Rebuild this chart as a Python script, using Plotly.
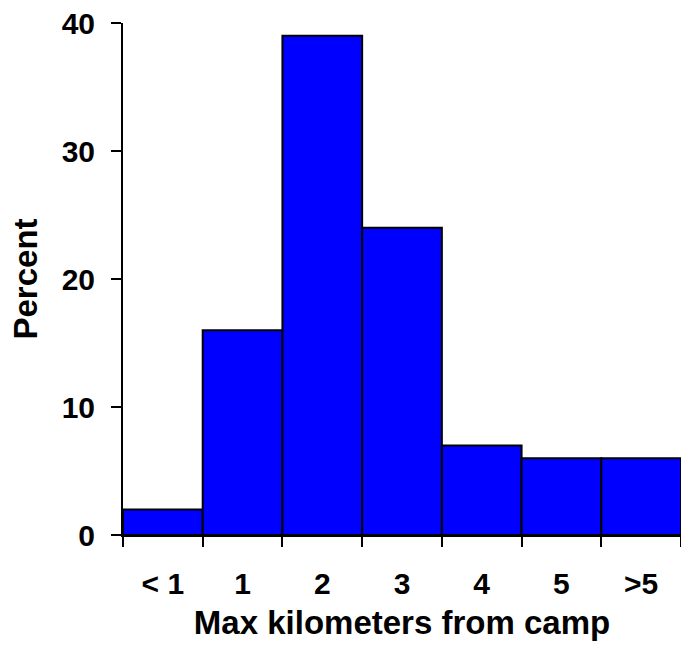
import plotly.graph_objects as go

categories = ["< 1", "1", "2", "3", "4", "5", ">5"]
percent = [2, 16, 39, 24, 7, 6, 6]
y_ticks = [0, 10, 20, 30, 40]

font_family = "Liberation Sans, Arial, sans-serif"

fig = go.Figure(
    go.Bar(
        x=categories,
        y=percent,
        marker=dict(color="#0000FF", line=dict(color="black", width=2)),
        width=1,
    )
)

fig.update_layout(
    width=681,
    height=654,
    margin=dict(l=123, r=0, t=23, b=119),
    plot_bgcolor="white",
    paper_bgcolor="white",
    bargap=0,
    showlegend=False,
    font=dict(family=font_family, color="black"),
)

fig.update_xaxes(
    type="category",
    tickson="boundaries",
    ticks="outside",
    ticklen=10,
    tickwidth=2,
    tickcolor="black",
    showline=True,
    linewidth=2,
    linecolor="black",
    showgrid=False,
    tickfont=dict(size=30, family=font_family, weight="bold"),
    ticklabelstandoff=21,
    ticklabeloverflow="allow",
    title=dict(text="<b>Max kilometers from camp</b>", font=dict(size=33), standoff=12),
    range=[-0.5, 6.5],
)

fig.update_yaxes(
    range=[0, 40],
    tickvals=y_ticks,
    ticks="outside",
    ticklen=10,
    tickwidth=2,
    tickcolor="black",
    showline=True,
    linewidth=2,
    linecolor="black",
    showgrid=False,
    zeroline=False,
    tickfont=dict(size=30, family=font_family, weight="bold"),
    ticklabelstandoff=10,
    ticklabeloverflow="allow",
    title=dict(text="<b>Percent</b>", font=dict(size=33), standoff=14),
)

fig.write_html(
    "out.html",
    config={"displayModeBar": False, "staticPlot": True},
    post_script="document.body.style.margin='0';document.body.style.overflow='hidden';",
)
